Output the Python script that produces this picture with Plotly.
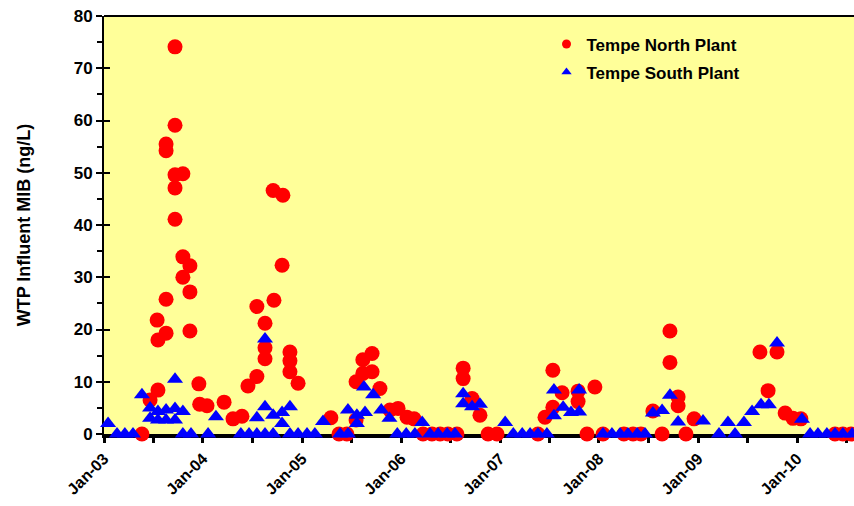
import plotly.graph_objects as go

# Tempe North Plant sampling dates and influent MIB (ng/L)
north_dates = [
    "2003-05-21", "2003-06-20", "2003-07-19", "2003-07-19", "2003-07-16",
    "2003-08-18", "2003-08-18", "2003-08-18", "2003-08-18",
    "2003-09-20", "2003-09-20", "2003-09-20", "2003-09-20", "2003-09-20",
    "2003-10-19", "2003-10-19", "2003-10-19",
    "2003-11-14", "2003-11-14", "2003-11-14",
    "2003-12-17", "2003-12-20", "2004-01-16", "2004-03-19", "2004-04-21",
    "2004-05-24", "2004-06-15", "2004-07-18", "2004-07-18",
    "2004-08-17", "2004-08-17", "2004-08-17",
    "2004-09-16", "2004-09-19", "2004-10-19", "2004-10-22",
    "2004-11-17", "2004-11-17", "2004-11-17", "2004-12-17",
    "2005-04-17", "2005-05-17", "2005-06-15", "2005-07-19", "2005-07-19",
    "2005-08-13", "2005-08-13", "2005-09-16", "2005-09-16", "2005-10-15",
    "2005-11-21", "2005-12-21", "2006-01-23", "2006-02-18", "2006-03-23",
    "2006-04-25", "2006-05-25", "2006-06-23", "2006-07-26",
    "2006-08-18", "2006-08-18", "2006-09-20", "2006-10-19", "2006-11-18",
    "2006-12-21", "2007-05-21", "2007-06-16", "2007-07-15", "2007-07-15",
    "2007-08-18", "2007-10-16", "2007-10-16", "2007-11-18", "2007-12-17",
    "2008-01-16", "2008-04-02", "2008-05-06", "2008-06-04", "2008-07-18",
    "2008-08-21", "2008-09-19", "2008-09-19", "2008-10-19", "2008-10-19",
    "2008-11-17", "2008-12-17", "2009-08-17", "2009-09-16", "2009-10-19",
    "2009-11-18", "2009-12-17", "2010-01-15", "2010-05-21", "2010-06-19",
    "2010-07-19",
]
north_mib = [
    0, 6.5, 8.4, 18.0, 21.8,
    19.3, 25.8, 54.2, 55.5,
    74.1, 59.1, 49.6, 47.1, 41.1,
    49.8, 33.9, 30.0,
    32.2, 27.2, 19.7,
    9.6, 5.7, 5.4, 6.1, 2.9,
    3.4, 9.2, 11.0, 24.4,
    21.2, 16.5, 14.4,
    46.6, 25.6, 32.3, 45.7,
    15.7, 14.0, 11.9, 9.7,
    3.1, 0, 0, 2.7, 10.0,
    14.2, 11.6, 15.4, 11.9, 8.7,
    4.6, 4.9, 3.2, 2.9, 0,
    0, 0, 0, 0,
    12.6, 10.6, 6.8, 3.6, 0,
    0, 0, 3.2, 5.1, 12.2,
    7.9, 8.2, 6.2, 0, 9.0,
    0, 0, 0, 0, 4.4,
    0, 19.7, 13.7, 7.1, 5.4,
    0, 2.9, 15.7, 8.3, 15.7,
    4.0, 3.0, 2.9, 0, 0,
    0,
]

# Tempe South Plant sampling dates and influent MIB (ng/L)
south_dates = [
    "2003-01-16", "2003-02-18", "2003-03-19", "2003-04-18", "2003-05-21",
    "2003-06-20", "2003-06-20", "2003-07-19", "2003-07-19", "2003-08-18",
    "2003-08-18", "2003-09-20", "2003-09-20", "2003-09-20", "2003-10-19",
    "2003-10-19", "2003-11-18", "2004-01-20", "2004-02-18", "2004-05-20",
    "2004-06-19", "2004-07-18", "2004-07-18", "2004-08-17", "2004-08-17",
    "2004-08-17", "2004-09-16", "2004-09-16", "2004-10-19", "2004-10-19",
    "2004-11-17", "2004-11-17", "2004-12-17", "2005-01-19", "2005-02-17",
    "2005-03-19", "2005-05-21", "2005-06-19", "2005-06-19", "2005-07-22",
    "2005-07-22", "2005-08-21", "2005-08-17", "2005-09-20", "2005-10-20",
    "2005-11-19", "2005-12-18", "2006-01-20", "2006-02-21", "2006-03-20",
    "2006-04-18", "2006-05-18", "2006-06-20", "2006-07-19", "2006-08-18",
    "2006-08-18", "2006-09-20", "2006-10-19", "2007-01-20", "2007-02-19",
    "2007-03-24", "2007-04-22", "2007-05-21", "2007-06-23", "2007-07-19",
    "2007-07-19", "2007-08-22", "2007-09-20", "2007-10-20", "2007-10-20",
    "2008-01-16", "2008-02-18", "2008-03-19", "2008-04-17", "2008-05-21",
    "2008-06-19", "2008-07-18", "2008-08-21", "2008-09-19", "2008-10-19",
    "2009-01-19", "2009-03-19", "2009-04-21", "2009-05-17", "2009-06-19",
    "2009-07-19", "2009-08-21", "2009-09-19", "2009-10-19", "2010-01-19",
    "2010-02-18", "2010-03-19", "2010-04-21", "2010-05-21", "2010-06-19",
    "2010-07-23",
]
south_mib = [
    2.0, 0, 0, 0, 7.5,
    5.0, 3.0, 4.3, 2.7, 4.6,
    2.7, 10.5, 4.9, 2.7, 4.3,
    0, 0, 0, 3.3, 0,
    0, 3.1, 0, 18.2, 5.2,
    0, 3.6, 0, 4.1, 2.0,
    5.2, 0, 0, 0, 0,
    2.4, 0, 0, 4.6, 3.6,
    2.0, 4.1, 9.0, 7.5, 4.6,
    3.0, 0, 0, 0, 2.2,
    0, 0, 0, 0, 7.7,
    5.8, 5.2, 5.7, 2.2, 0,
    0, 0, 0, 0, 8.4,
    3.5, 5.1, 4.1, 8.4, 4.2,
    0, 0, 0, 0, 0,
    0, 4.0, 4.5, 7.4, 2.3,
    2.5, 0, 2.2, 0, 2.2,
    4.3, 5.6, 5.6, 17.4, 2.8,
    0, 0, 0, 0, 0,
    0,
]

year_ticks = ["2003-01-01", "2004-01-01", "2005-01-01", "2006-01-01",
              "2007-01-01", "2008-01-01", "2009-01-01", "2010-01-01"]
year_labels = ["Jan-03", "Jan-04", "Jan-05", "Jan-06",
               "Jan-07", "Jan-08", "Jan-09", "Jan-10"]

RED = "#FF0000"
BLUE = "#0000FF"
FONT = "Liberation Sans, Arial, sans-serif"

fig = go.Figure()

# data markers (south drawn last so its triangles sit on top)
fig.add_trace(go.Scatter(
    x=north_dates, y=north_mib, mode="markers", showlegend=False,
    marker=dict(symbol="circle", size=15, color=RED, line=dict(width=0)),
    cliponaxis=False,
))
fig.add_trace(go.Scatter(
    x=south_dates, y=south_mib, mode="markers", showlegend=False,
    marker=dict(symbol="triangle-up", size=14, color=BLUE, line=dict(width=0)),
    cliponaxis=False,
))

# compact legend entries
fig.add_trace(go.Scatter(
    x=[None], y=[None], mode="markers", name="Tempe North Plant",
    legendgroup="n", marker=dict(symbol="circle", size=9, color=RED),
))
fig.add_trace(go.Scatter(
    x=[None], y=[None], mode="markers", name="Tempe South Plant",
    legendgroup="s", marker=dict(symbol="triangle-up", size=9, color=BLUE),
))

fig.update_layout(
    width=854, height=506,
    margin=dict(l=104, r=0, t=16, b=72),
    paper_bgcolor="white",
    plot_bgcolor="#FFFF99",
    font=dict(family=FONT, size=15, color="black", weight="bold"),
    legend=dict(
        x=0.59, y=0.975, xanchor="left", yanchor="top",
        bgcolor="rgba(0,0,0,0)", font=dict(size=17, weight="bold"),
        tracegroupgap=3, itemsizing="trace",
    ),
    xaxis=dict(
        type="date",
        range=["2003-01-01", "2010-07-30"],
        tickvals=year_ticks, ticktext=year_labels,
        tickangle=-45,
        tickfont=dict(size=16, weight="bold"),
        ticks="outside", ticklen=5, tickwidth=3, tickcolor="black",
        minor=dict(dtick="M6", tick0="2003-01-01", ticks="outside",
                   ticklen=5, tickwidth=3, tickcolor="black"),
        showline=True, linecolor="black", linewidth=4,
        showgrid=False, zeroline=False, layer="below traces",
    ),
    yaxis=dict(
        range=[0, 80], dtick=10,
        tickfont=dict(size=17, weight="bold"),
        ticks="outside", ticklen=6, tickwidth=2, tickcolor="black",
        minor=dict(dtick=5, ticks="outside", ticklen=5, tickwidth=2,
                   tickcolor="black"),
        showline=True, linecolor="black", linewidth=2,
        showgrid=False, zeroline=False, layer="below traces",
        title=dict(text="WTP Influent MIB (ng/L)", standoff=38,
                   font=dict(size=18, weight="bold")),
    ),
    yaxis2=dict(
        range=[0, 80], dtick=10, overlaying="y", side="left",
        ticks="inside", ticklen=6, tickwidth=2, tickcolor="black",
        showticklabels=False, showgrid=False, zeroline=False,
        showline=False,
    ),
    shapes=[dict(type="line", xref="paper", yref="paper",
                 x0=0, x1=1, y0=1, y1=1,
                 line=dict(color="black", width=2))],
)

# invisible trace keeps the inside-tick axis active
fig.add_trace(go.Scatter(x=[None], y=[None], yaxis="y2", showlegend=False,
                         hoverinfo="skip"))

fig.write_html("out.html")
